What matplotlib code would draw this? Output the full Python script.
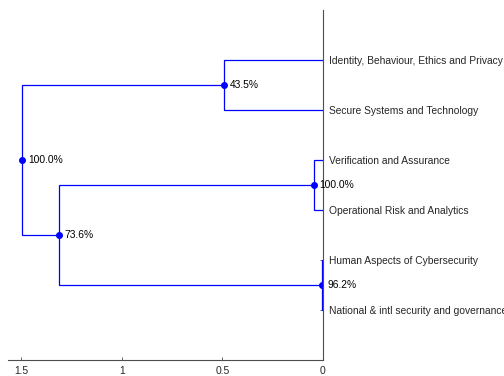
import matplotlib
matplotlib.use("Agg")
from matplotlib import pyplot as plt

# leaves, top to bottom
leaves = ["Identity, Behaviour, Ethics and Privacy",
          "Secure Systems and Technology",
          "Verification and Assurance",
          "Operational Risk and Analytics",
          "Human Aspects of Cybersecurity",
          "National & intl security and governance"]

# merges: (child a, child b, height, percentage)  -- leaves are 0..5, new nodes 6..
merge_a = [0, 2, 4, 7, 6]
merge_b = [1, 3, 5, 8, 9]
merge_h = [0.49, 0.045, 0.005, 1.313, 1.495]
merge_pct = ["43.5%", "100.0%", "96.2%", "73.6%", "100.0%"]

xticks = [1.5, 1, 0.5, 0]
xticklabels = ["1.5", "1", "0.5", "0"]

plt.rcParams['font.family'] = ['Liberation Sans', 'DejaVu Sans']

fig = plt.figure(figsize=(5.04, 3.76), dpi=100)
ax = fig.add_axes([8/504, 16/376, 315/504, 350/376])

n = len(leaves)
ypos = {i: n - i for i in range(n)}
xpos = {i: 0.0 for i in range(n)}

blue = (0, 0, 1)
for k in range(len(merge_h)):
    a, b, h = merge_a[k], merge_b[k], merge_h[k]
    ya, yb = ypos[a], ypos[b]
    ax.plot([xpos[a], h, h, xpos[b]], [ya, ya, yb, yb], color=blue, lw=0.9, solid_joinstyle='miter')
    node = n + k
    ypos[node] = (ya + yb) / 2
    xpos[node] = h
    ax.plot(h, ypos[node], 'o', color=blue, ms=4)
    ax.annotate(merge_pct[k], (h, ypos[node]), xytext=(4, 0), textcoords='offset points',
                va='center', ha='left', fontsize=7.4, color='black')

ax.set_xlim(1.567, 0)
ax.set_ylim(0, n + 1)
ax.set_xticks(xticks)
ax.set_xticklabels(xticklabels)
ax.set_yticks([ypos[i] for i in range(n)])
ax.set_yticklabels(leaves)
ax.yaxis.tick_right()
ax.spines['top'].set_visible(False)
ax.spines['left'].set_visible(False)
for s in ['bottom', 'right']:
    ax.spines[s].set_color('#4d4d4d')
    ax.spines[s].set_linewidth(0.8)
ax.tick_params(direction='in', length=2.5, width=0.6, color='#4d4d4d', labelsize=7.4,
               labelcolor='#262626')
ax.tick_params(axis='y', pad=4)
ax.tick_params(axis='x', pad=4)

fig.savefig("out.png", dpi=100)
